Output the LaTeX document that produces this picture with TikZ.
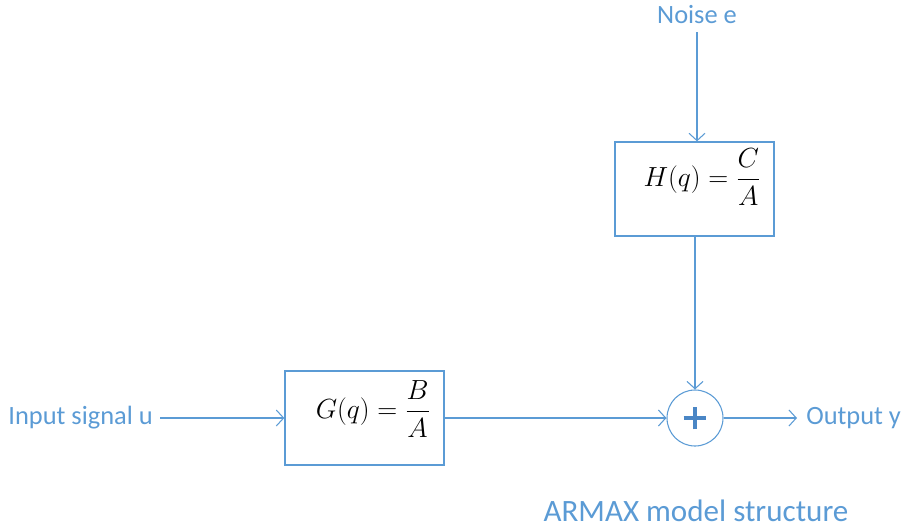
\documentclass[tikz,border=0pt]{standalone}
\usepackage{fontspec}
\setmainfont{Carlito}
\usetikzlibrary{arrows.meta}
\definecolor{obl}{HTML}{5B9BD5}
\definecolor{obld}{HTML}{4A86C5}
\tikzset{
  lbl/.style={text=obl,font=\fontsize{19.8}{23}\selectfont,inner sep=0pt},
  blk/.style={draw=obl,line width=1pt,minimum width=119.25pt,minimum height=70.5pt,inner sep=0pt},
  conn/.style={draw=obl,line width=0.8pt,-{Straight Barb[length=5.5pt,width=12pt,line width=0.8pt]}},
  plain/.style={draw=obl,line width=0.8pt},
  eqn/.style={text=black,font=\fontsize{20}{24}\selectfont,inner sep=0pt}
}
\begin{document}
\begin{tikzpicture}[x=0.75pt,y=-0.75pt]
\useasboundingbox (0,0) rectangle (903,529);
\node[lbl] (noise) at (697,15) {Noise e};
\node[blk] (H) at (694.5,189) {};
\node[eqn] (Heq) at (702,177) {$\displaystyle H(q)=\frac{C}{A}$};
\node[blk] (G) at (364.5,418) {};
\node[eqn] (Geq) at (373,409) {$\displaystyle G(q)=\frac{B}{A}$};
\node[lbl,anchor=east] (in) at (153,418) {Input signal u};
\node[circle,draw=obl,line width=0.8pt,minimum size=42pt,inner sep=0pt,
  path picture={\draw[obld,line width=3pt] ([xshift=-8.5pt]path picture bounding box.center) -- ([xshift=8.5pt]path picture bounding box.center);
  \draw[obld,line width=3pt] ([yshift=-8.5pt]path picture bounding box.center) -- ([yshift=8.5pt]path picture bounding box.center);}] (sum) at (695,418) {};
\node[lbl,anchor=west] (out) at (806,418) {Output y};
\node[lbl,font=\fontsize{23.3}{27}\selectfont] (title) at (696,511) {ARMAX model structure};
\coordinate (nstart) at (697,32);
\coordinate (iend) at (160,418);
\coordinate (oend) at (797,418);
\draw[conn] (nstart) -- (H.north -| nstart);
\draw[conn] (H.south -| sum) -- (sum.north);
\draw[conn] (iend) -- (G.west);
\draw[conn] (G.east) -- (sum.west);
\draw[conn] (sum.east) -- (oend);
\end{tikzpicture}
\end{document}
